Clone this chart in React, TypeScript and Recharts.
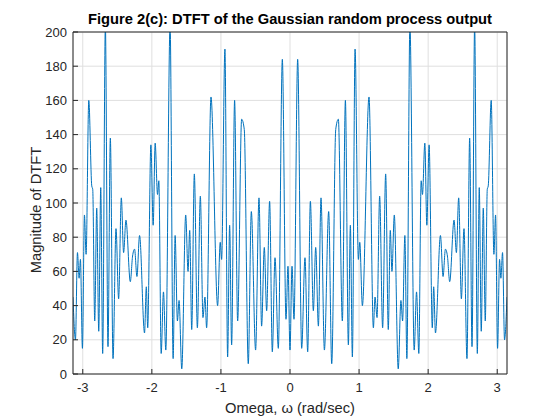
import React from 'react';
import { LineChart, Line, XAxis, YAxis, CartesianGrid } from 'recharts';

// frequency samples (rad/sec), -pi .. pi
const omega = [
  -3.1416, -3.106, -3.077, -3.053, -3.034, -3.005, -2.976, -2.952, -2.913, -2.87, -2.856, -2.827,
  -2.798, -2.769, -2.74, -2.712, -2.673, -2.635, -2.601, -2.562, -2.519, -2.481, -2.442, -2.409,
  -2.375, -2.312, -2.279, -2.25, -2.216, -2.178, -2.106, -2.08, -2.06, -2.014, -1.981, -1.952,
  -1.918, -1.899, -1.865, -1.832, -1.798, -1.736, -1.692, -1.663, -1.63, -1.606, -1.567, -1.51,
  -1.476, -1.452, -1.423, -1.385, -1.341, -1.298, -1.26, -1.231, -1.207, -1.144, -1.048, -1.01,
  -0.99, -0.942, -0.903, -0.874, -0.845, -0.802, -0.758, -0.7, -0.662, -0.604, -0.56, -0.498,
  -0.449, -0.411, -0.372, -0.338, -0.295, -0.256, -0.217, -0.169, -0.111, -0.058, -0.029, 0,
  0.029, 0.058, 0.111, 0.169, 0.217, 0.256, 0.295, 0.338, 0.372, 0.411, 0.449, 0.498,
  0.56, 0.604, 0.662, 0.7, 0.758, 0.802, 0.845, 0.874, 0.903, 0.942, 0.99, 1.01,
  1.048, 1.144, 1.207, 1.231, 1.26, 1.298, 1.341, 1.385, 1.423, 1.452, 1.476, 1.51,
  1.567, 1.606, 1.63, 1.663, 1.692, 1.736, 1.798, 1.832, 1.865, 1.899, 1.918, 1.952,
  1.981, 2.014, 2.06, 2.08, 2.106, 2.178, 2.216, 2.25, 2.279, 2.312, 2.375, 2.409,
  2.442, 2.481, 2.519, 2.562, 2.601, 2.635, 2.673, 2.712, 2.74, 2.769, 2.798, 2.827,
  2.856, 2.87, 2.913, 2.952, 2.976, 3.005, 3.034, 3.053, 3.077, 3.106, 3.1416,
];

// |X(e^jw)|
const magnitude = [
  45, 20, 71, 56, 67, 15, 93, 70, 160, 110, 108, 31,
  97, 25, 109, 12, 204, 16, 138, 9, 85, 44, 103, 71,
  90, 54, 69, 73, 57, 81, 24, 51, 27, 134, 87, 135,
  105, 113, 12, 48, 14, 204, 9, 81, 31, 43, 3, 93,
  60, 84, 26, 117, 27, 104, 33, 45, 27, 162, 40, 77,
  67, 190, 10, 87, 17, 160, 31, 149, 143, 6, 95, 14,
  103, 28, 74, 37, 101, 13, 68, 15, 184, 32, 63, 14,
  63, 32, 184, 15, 68, 13, 101, 37, 74, 28, 103, 14,
  95, 6, 143, 149, 31, 160, 17, 87, 10, 190, 67, 77,
  40, 162, 27, 45, 33, 104, 27, 117, 26, 84, 60, 93,
  3, 43, 31, 81, 9, 204, 14, 48, 12, 113, 105, 135,
  87, 134, 27, 51, 24, 81, 57, 73, 69, 54, 90, 71,
  103, 44, 85, 9, 138, 16, 204, 12, 109, 25, 97, 31,
  108, 110, 160, 70, 93, 15, 67, 56, 71, 20, 45,
];

const xTicks = [-3, -2, -1, 0, 1, 2, 3];
const yTicks = [0, 20, 40, 60, 80, 100, 120, 140, 160, 180, 200];

const data = omega.map((w, i) => ({ omega: w, mag: magnitude[i] }));

const font = '"Liberation Sans", Arial, Helvetica, sans-serif';
const axisColor = '#262626';
const tickStyle = { fill: axisColor, fontSize: 13, fontFamily: font };

export default function App() {
  return (
    <div style={{ position: 'absolute', left: 0, top: 0, width: 560, height: 420, background: '#fff' }}>
      <LineChart width={560} height={420} data={data} margin={{ top: 31, right: 52, bottom: 6, left: 13 }}>
        <CartesianGrid stroke="#dfdfdf" />
        <XAxis
          dataKey="omega"
          type="number"
          domain={[-Math.PI, Math.PI]}
          ticks={xTicks}
          allowDataOverflow
          height={40}
          stroke={axisColor}
          tickSize={-5}
          tickMargin={14}
          tick={tickStyle}
        />
        <XAxis
          xAxisId="top"
          orientation="top"
          dataKey="omega"
          type="number"
          domain={[-Math.PI, Math.PI]}
          ticks={xTicks}
          allowDataOverflow
          height={1}
          stroke={axisColor}
          tickSize={-5}
          tick={false}
        />
        <YAxis
          type="number"
          domain={[0, 200]}
          ticks={yTicks}
          allowDataOverflow
          width={60}
          stroke={axisColor}
          tickSize={-5}
          tickMargin={11}
          tick={tickStyle}
        />
        <YAxis
          yAxisId="right"
          orientation="right"
          type="number"
          domain={[0, 200]}
          ticks={yTicks}
          width={1}
          stroke={axisColor}
          tickSize={-5}
          tick={false}
        />
        <Line
          dataKey="mag"
          type="monotone"
          stroke="#0072BD"
          strokeWidth={1}
          dot={false}
          isAnimationActive={false}
        />
      </LineChart>
      <svg width={560} height={420} style={{ position: 'absolute', left: 0, top: 0, pointerEvents: 'none' }}>
        <text x={290} y={24} textAnchor="middle" fontFamily={font} fontSize={14.7} fontWeight="bold" fill="#000">
          Figure 2(c): DTFT of the Gaussian random process output
        </text>
        <text x={290} y={413} textAnchor="middle" fontFamily={font} fontSize={14.7} fill={axisColor}>
          Omega, ω (rad/sec)
        </text>
        <text x={40.5} y={210} transform="rotate(-90 40.5 210)" textAnchor="middle" fontFamily={font} fontSize={14.7} fill={axisColor}>
          Magnitude of DTFT
        </text>
      </svg>
    </div>
  );
}
